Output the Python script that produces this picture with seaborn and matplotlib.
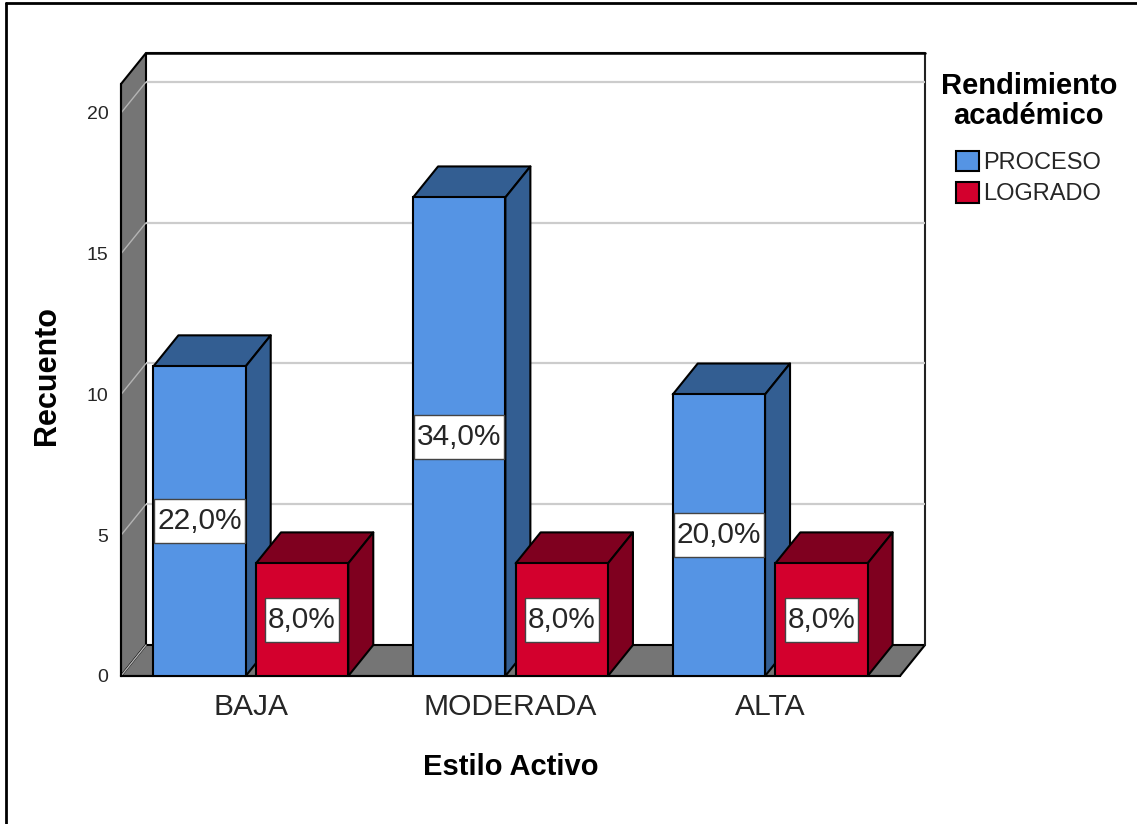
#!/usr/bin/env python
# -*- coding: utf-8 -*-
import matplotlib
matplotlib.use("Agg")
import matplotlib.pyplot as plt
from matplotlib.lines import Line2D
from matplotlib.patches import Polygon
from matplotlib.path import Path
import pandas as pd
import seaborn as sns

# datos
categorias = ["BAJA", "MODERADA", "ALTA"]
grupos = ["PROCESO", "LOGRADO"]
recuento_proceso = [11, 17, 10]
recuento_logrado = [4, 4, 4]
etiquetas_proceso = ["22,0%", "34,0%", "20,0%"]
etiquetas_logrado = ["8,0%", "8,0%", "8,0%"]
ticks_y = [0, 5, 10, 15, 20]

AZUL, AZUL_OSC = "#5594E4", "#335E92"
ROJO, ROJO_OSC = "#D3002D", "#7F001F"
GRIS = "#757575"
W, H = 1137, 824

df = pd.DataFrame(
    {
        "categoria": categorias * 2,
        "grupo": [grupos[0]] * 3 + [grupos[1]] * 3,
        "recuento": recuento_proceso + recuento_logrado,
    }
)

sns.set_style("white")
plt.rcParams["font.family"] = ["Liberation Sans", "DejaVu Sans"]

fig = plt.figure(figsize=(W / 100, H / 100), dpi=100)
ax = fig.add_axes([121 / W, 1 - 676 / H, 779 / W, 592 / H])

sns.barplot(
    data=df,
    x="categoria",
    y="recuento",
    hue="grupo",
    order=categorias,
    hue_order=grupos,
    palette={grupos[0]: AZUL, grupos[1]: ROJO},
    width=0.79,
    gap=0.1,
    edgecolor="black",
    linewidth=1.5,
    saturation=1,
    errorbar=None,
    ax=ax,
)

ax.set_xlim(-0.5, 2.5)
ax.set_ylim(0, 21.03)
x0, x1 = ax.get_xlim()
y0, y1 = ax.get_ylim()

# profundidad del efecto 3D, en unidades de datos
dx = 25 * (x1 - x0) / 779
dy = 31 * (y1 - y0) / 592


def cara(puntos, color, z, lw=1.5, edge="black"):
    ax.add_patch(
        Polygon(puntos, closed=True, facecolor=color, edgecolor=edge,
                linewidth=lw, zorder=z, clip_on=False, joinstyle="round")
    )


def caja_etiqueta(x, y, w, h, escala):
    # caja mas alta que ancha respecto al texto, como en el original
    px, py = 0.1 * escala, 0.27 * escala
    a, b, c, d = x - px, y - py, x + w + px, y + h + py
    return Path([(a, b), (c, b), (c, d), (a, d), (a, b)], closed=True)


# pared lateral, suelo y marco del fondo
cara([(x0, y0), (x0 + dx, y0 + dy), (x0 + dx, y1 + dy), (x0, y1)], GRIS, 1)
cara([(x0, y0), (x0 + dx, y0 + dy), (x1 + dx, y0 + dy), (x1, y0)], GRIS, 1)
ax.plot([x0 + dx, x1 + dx, x1 + dx], [y1 + dy, y1 + dy, y0 + dy],
        color="#222222", lw=1.5, clip_on=False, zorder=1.1)
ax.plot([x0 + dx, x1 + dx], [y1 + dy, y1 + dy], color="black", lw=1.8,
        clip_on=False, zorder=1.1)

# rejilla
for t in ticks_y:
    if t > 0:
        ax.plot([x0 + dx, x1 + dx], [t + dy, t + dy], color="#CCCCCC", lw=1.6,
                clip_on=False, zorder=1.2, solid_capstyle="butt")
    ax.plot([x0, x0 + dx], [t, t + dy], color="#B4B4B4", lw=1.0,
            clip_on=False, zorder=1.2)

# caras superior y lateral de cada barra, de izquierda a derecha
rects = [p for c in ax.containers for p in c]
for i, b in enumerate(sorted(rects, key=lambda r: r.get_x())):
    xa, xb = b.get_x(), b.get_x() + b.get_width()
    h = b.get_height()
    oscuro = AZUL_OSC if b in ax.containers[0].patches else ROJO_OSC
    z = 3 + i * 0.1
    cara([(xa, h), (xa + dx, h + dy), (xb + dx, h + dy), (xb, h)], oscuro, z)
    cara([(xb, 0), (xb + dx, dy), (xb + dx, h + dy), (xb, h)], oscuro, z)
    b.set_zorder(z + 0.05)

# etiquetas de porcentaje
caja = dict(boxstyle=caja_etiqueta, facecolor="white", edgecolor="#444444", linewidth=1)
for c, textos in zip(ax.containers, [etiquetas_proceso, etiquetas_logrado]):
    ax.bar_label(c, labels=textos, label_type="center", fontsize=21.5, color="#262626",
                 bbox=caja, zorder=10)

ax.set_yticks(ticks_y)
ax.tick_params(axis="y", length=0, pad=9, labelsize=14, labelcolor="#262626")
ax.tick_params(axis="x", length=0, pad=12, labelsize=21.6, labelcolor="#262626")
ax.set_xlabel("Estilo Activo", fontsize=21, fontweight="bold", color="black", labelpad=23.2)
ax.set_ylabel("Recuento", fontsize=22, fontweight="bold", color="black", labelpad=18, y=0.507)

sns.despine(ax=ax)
for lado in ("left", "bottom"):
    ax.spines[lado].set_color("black")
    ax.spines[lado].set_linewidth(1.5)
    ax.spines[lado].set_zorder(2)

sns.move_legend(
    ax,
    "upper left",
    bbox_to_anchor=(1.037, 1.04),
    title="Rendimiento\nacadémico",
    frameon=False,
    fontsize=17,
    title_fontsize=21,
    handlelength=0.95,
    handleheight=0.95,
    handletextpad=0.2,
    labelspacing=0.35,
    borderpad=0,
)
ley = ax.get_legend()
titulo = ley.get_title()
titulo.set_fontweight("bold")
titulo.set_color("black")
titulo.set_linespacing(1.1)
titulo.set_multialignment("center")
ley._legend_box.sep = 14.6
for t in ley.get_texts():
    t.set_color("#262626")

# marco exterior de la captura
fig.add_artist(Line2D([6 / W, 6 / W], [0, 1 - 3 / H], color="black", lw=2))
fig.add_artist(Line2D([6 / W, 1], [1 - 3 / H, 1 - 3 / H], color="black", lw=2))

fig.savefig("out.png", dpi=100, facecolor="white")
